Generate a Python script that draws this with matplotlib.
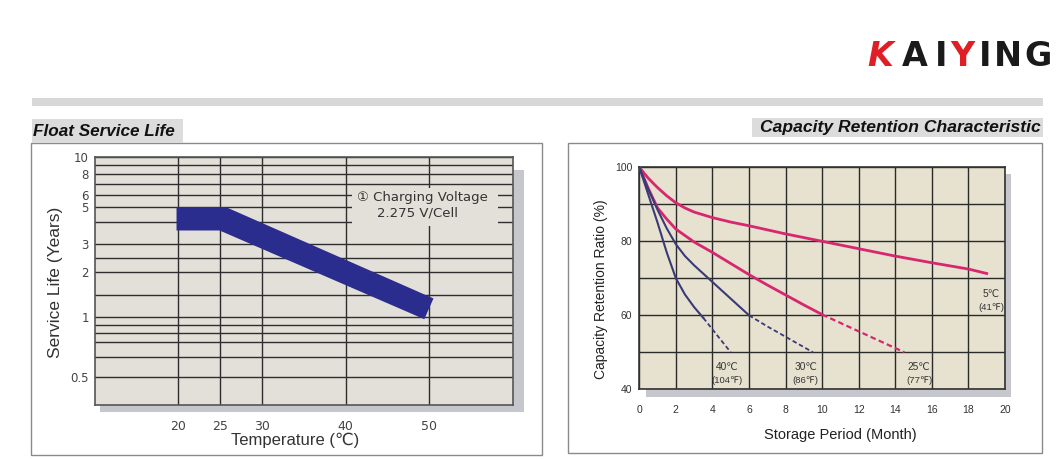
import numpy as np
import matplotlib
matplotlib.use("Agg")
import matplotlib.pyplot as plt
from matplotlib.patches import Rectangle, Polygon

plt.rcParams['font.family'] = ['Liberation Sans', 'DejaVu Sans', 'Noto Sans CJK JP']

W, H = 1060, 459

# ---------------- data ----------------
# Float service life band (temperature degC, service life years)
band_upper_temp = [19.8, 25.7, 50.5]
band_upper_life = [5.0, 5.0, 1.42]
band_lower_temp = [49.4, 24.95, 19.8]
band_lower_life = [0.97, 3.61, 3.61]
temp_ticks = [20, 25, 30, 40, 50]
life_ticks = [0.5, 1, 2, 3, 5, 6, 8, 10]
life_tick_labels = ["0.5", "1", "2", "3", "5", "6", "8", "10"]
life_minor = [0.6, 0.7, 0.8, 0.9, 1.5, 2.5, 4, 7, 9]

# Capacity retention (month, %)
m_5 = [0, 0.5, 1, 1.5, 2, 2.5, 3, 4, 5, 6, 8, 10, 12, 14, 16, 18, 19]
r_5 = [100, 97, 94.5, 92.3, 90.4, 89, 87.9, 86.4, 85.2, 84.2, 82, 80, 78, 76, 74.2, 72.5, 71.3]
m_25 = [0, 0.5, 1, 1.5, 2, 3, 4, 5, 6, 7, 8, 9, 10]
r_25 = [100, 94.2, 89, 86, 83.3, 79.8, 77, 74, 71, 68.2, 65.5, 62.8, 60.2]
m_25d = [10, 14.5]
r_25d = [60.2, 50]
m_30 = [0, 0.5, 1, 1.5, 2, 2.5, 3, 4, 5, 6]
r_30 = [100, 94, 88.5, 83.5, 79.2, 76, 73.5, 69, 64.5, 60]
m_30d = [6, 7, 8, 9.5]
r_30d = [60, 57, 54.2, 50]
m_40 = [0, 0.5, 1, 1.5, 2, 2.5, 3, 3.5]
r_40 = [100, 92.5, 85, 77, 70, 65.6, 62.2, 59.3]
m_40d = [3.5, 4, 4.5, 5]
r_40d = [59.3, 56.2, 53.1, 50]
month_ticks = list(range(0, 21, 2))
ratio_ticks = [40, 60, 80, 100]
ratio_grid = [50, 70, 90]
curve_labels = [("40℃", "(104℉)", 4.8), ("30℃", "(86℉)", 9.1), ("25℃", "(77℉)", 15.3)]
label_5 = ("5℃", "(41℉)", 19.25)

# ---------------- helpers ----------------
fig = plt.figure(figsize=(W / 100, H / 100), dpi=100)
fig.patch.set_facecolor("white")


def fx(x):
    return x / W


def fy(y):
    return 1 - y / H


def px_rect(x0, y0, x1, y1, **kw):
    r = Rectangle((fx(x0), fy(y1)), fx(x1) - fx(x0), fy(y0) - fy(y1),
                  transform=fig.transFigure, **kw)
    fig.patches.append(r)
    return r


def px_axes(x0, y0, x1, y1):
    return fig.add_axes([fx(x0), fy(y1), fx(x1) - fx(x0), fy(y0) - fy(y1)])


# header bar
px_rect(32, 98.3, 1043, 105.7, facecolor="#d8d8d8", edgecolor="none", zorder=-3)

# logo
logo = [("K", "#e01e26", 880, "italic"), ("A", "#1a1a1a", 915, "normal"),
        ("I", "#1a1a1a", 941, "normal"), ("Y", "#e01e26", 962, "normal"),
        ("I", "#1a1a1a", 985, "normal"), ("N", "#1a1a1a", 1008, "normal"),
        ("G", "#1a1a1a", 1038, "normal")]
for ch, col, xc, st in logo:
    fig.text(fx(xc), fy(56), ch, color=col, fontsize=24, fontweight="heavy",
             style=st, family="DejaVu Sans", ha="center", va="center")

# outer boxes
px_rect(30.5, 143.3, 542.3, 455, facecolor="none", edgecolor="#8a8a8a", lw=1.0, zorder=-2)
px_rect(567.7, 143, 1041.7, 452.7, facecolor="none", edgecolor="#8a8a8a", lw=1.0, zorder=-2)

# titles
px_rect(31.7, 119.3, 183, 143, facecolor="#dcdcdc", edgecolor="none", zorder=-2)
fig.text(fx(33), fy(131.5), "Float Service Life", fontsize=12.3, fontweight="bold",
         style="italic", color="#111111", ha="left", va="center")
px_rect(751.7, 117.7, 1043, 136.5, facecolor="#dcdcdc", edgecolor="none", zorder=-2)
fig.text(fx(1041), fy(127.5), "Capacity Retention Characteristic", fontsize=12.6,
         fontweight="bold", style="italic", color="#111111", ha="right", va="center")

# shadows
px_rect(100, 170, 524, 411.7, facecolor="#c6c7cc", edgecolor="none", zorder=-1)
px_rect(646, 174, 1011, 396.7, facecolor="#c6c7cc", edgecolor="none", zorder=-1)

# ---------------- left chart ----------------
axL = px_axes(94.5, 157, 513, 404.5)
axL.set_facecolor("#e3dfd9")

scale_vals = [0.4, 0.5, 0.6, 0.7, 0.8, 0.9, 1, 1.5, 2, 2.5, 3, 4, 5, 6, 7, 8, 9, 10]
scale_pos = [0, 0.1093, 0.1927, 0.2534, 0.2874, 0.3211, 0.3547, 0.4425, 0.5344,
             0.5935, 0.6502, 0.7368, 0.7976, 0.8474, 0.8919, 0.9324, 0.9688, 1.0]


def fwd(v):
    return np.interp(v, scale_vals, scale_pos)


def inv(f):
    return np.interp(f, scale_pos, scale_vals)


axL.set_yscale("function", functions=(fwd, inv))
axL.set_xlim(10, 60)
axL.set_ylim(0.4, 10)
axL.set_xticks(temp_ticks)
axL.set_xticklabels([str(t) for t in temp_ticks])
axL.set_yticks(life_ticks)
axL.set_yticklabels(life_tick_labels)
axL.set_yticks(life_minor, minor=True)
axL.yaxis.set_minor_formatter(plt.NullFormatter())
axL.tick_params(which="both", length=0)
axL.tick_params(axis="y", pad=4, labelsize=8.5, labelcolor="#444444")
axL.tick_params(axis="x", pad=11, labelsize=9, labelcolor="#444444")
for lab in axL.get_xticklabels() + axL.get_yticklabels():
    lab.set_family(["DejaVu Sans"])
axL.set_axisbelow(True)
axL.grid(True, which="both", color="#2e2e2e", lw=1.0)
for s in axL.spines.values():
    s.set_color("#555555")
    s.set_linewidth(1.2)

poly = Polygon(list(zip(band_upper_temp + band_lower_temp, band_upper_life + band_lower_life)),
               closed=True, facecolor="#2b2d8e", edgecolor="none", zorder=2)
axL.add_patch(poly)

# annotation cover and text
axL.add_patch(Rectangle((0.615, 0.721), 0.349, 0.154, transform=axL.transAxes,
                        facecolor="#e3dfd9", edgecolor="none", zorder=2.5))
axL.text(0.628, 0.835, "① Charging Voltage", transform=axL.transAxes,
         fontsize=9.5, color="#333333", ha="left", va="center", zorder=3,
         family=["DejaVu Sans"])
axL.text(0.675, 0.775, "2.275 V/Cell", transform=axL.transAxes,
         fontsize=9.5, color="#333333", ha="left", va="center", zorder=3,
         family=["DejaVu Sans"])

axL.set_xlabel("Temperature (℃)", fontsize=12, color="#333333")
axL.xaxis.label.set_va("center")
axL.xaxis.set_label_coords(0.479, -0.146)
axL.set_ylabel("Service Life (Years)", fontsize=12.5, color="#333333")
axL.yaxis.label.set(va="center", ha="center")
axL.yaxis.set_label_coords(-0.094, 0.495)

# ---------------- right chart ----------------
axR = px_axes(639.3, 167.3, 1005, 389.3)
axR.set_facecolor("#e7e2cf")
axR.set_xlim(0, 20)
axR.set_ylim(40, 100)
axR.set_xticks(month_ticks)
axR.set_yticks(ratio_ticks)
axR.set_yticks(ratio_grid, minor=True)
axR.tick_params(which="both", length=0)
axR.tick_params(axis="y", pad=5, labelsize=7.5, labelcolor="#333333")
axR.tick_params(axis="x", pad=11, labelsize=7.5, labelcolor="#333333")
axR.set_axisbelow(True)
axR.grid(True, which="both", color="#2a2a2a", lw=1.0)
for s in axR.spines.values():
    s.set_color("#333333")
    s.set_linewidth(1.2)

pink = "#d8266f"
navy = "#3b3a78"
axR.plot(m_5, r_5, color=pink, lw=2.0, zorder=3)
axR.plot(m_25, r_25, color=pink, lw=2.0, zorder=3)
axR.plot(m_25d, r_25d, color=pink, lw=1.6, ls=(0, (2.5, 1.5)), zorder=3)
axR.plot(m_30, r_30, color=navy, lw=1.5, zorder=3)
axR.plot(m_30d, r_30d, color=navy, lw=1.3, ls=(0, (2.5, 1.5)), zorder=3)
axR.plot(m_40, r_40, color=navy, lw=1.5, zorder=3)
axR.plot(m_40d, r_40d, color=navy, lw=1.3, ls=(0, (2.5, 1.5)), zorder=3)

for t1, t2, xm in curve_labels:
    axR.text(xm, 46.0, t1, fontsize=7.3, color="#333333", ha="center", va="center",
             family=["Liberation Sans", "DejaVu Sans"])
    axR.text(xm, 42.4, t2, fontsize=6.8, color="#333333", ha="center", va="center",
             family=["Liberation Sans", "DejaVu Sans"])
axR.text(label_5[2], 65.8, label_5[0], fontsize=7.3, color="#333333", ha="center", va="center",
         family=["Liberation Sans", "DejaVu Sans"])
axR.text(label_5[2], 62.0, label_5[1], fontsize=6.8, color="#333333", ha="center", va="center",
         family=["Liberation Sans", "DejaVu Sans"])

axR.set_xlabel("Storage Period (Month)", fontsize=10.5, color="#222222")
axR.xaxis.label.set_va("center")
axR.xaxis.set_label_coords(0.549, -0.208)
axR.set_ylabel("Capacity Retention Ratio (%)", fontsize=10, color="#222222")
axR.yaxis.label.set(va="center", ha="center")
axR.yaxis.set_label_coords(-0.106, 0.452)

fig.savefig("out.png", dpi=100)
